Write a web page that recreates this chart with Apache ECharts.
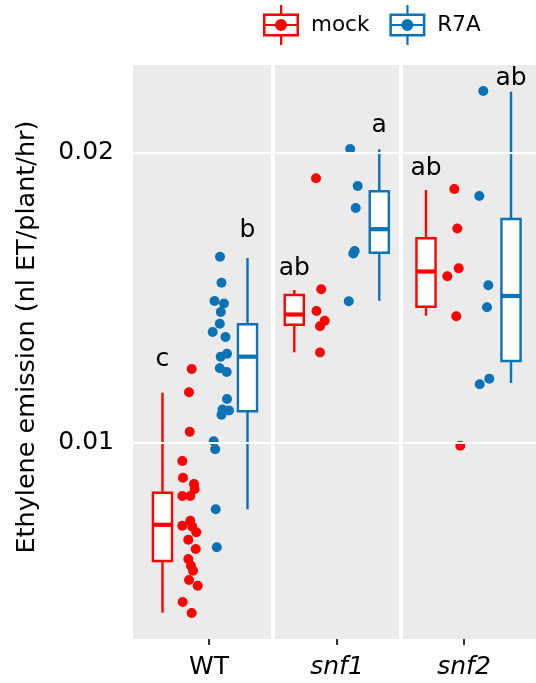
<!DOCTYPE html>
<html>
<head>
<meta charset="utf-8">
<script src="https://cdn.jsdelivr.net/npm/echarts@6/dist/echarts.min.js"></script>
<style>html,body{margin:0;padding:0;background:#fff}#c{width:536px;height:683px}</style>
</head>
<body>
<div id="c"></div>
<script>
// ---- data ----
const FACETS = ['WT', 'snf1', 'snf2'];
const GROUPS = ['mock', 'R7A'];
const Y_TICKS = [0.01, 0.02];
const GRID_LINES = [0.020386, 0.016455, 0.012507, 0.008559, 0.004628];

// box stats: [min, q1, median, q3, max]
const MOCK_BOX = [
  [0.004138, 0.005921, 0.007169, 0.008276, 0.011724],
  [0.013117, 0.014069, 0.014421, 0.015093, 0.015266],
  [0.014379, 0.014690, 0.015903, 0.017048, 0.018714]
];
const R7A_BOX = [
  [0.007703, 0.011083, 0.012966, 0.014086, 0.016369],
  [0.014893, 0.016552, 0.017362, 0.018669, 0.020117],
  [0.012059, 0.012817, 0.015059, 0.017714, 0.022103]
];

// individual points and their jitter (dodge units)
const MOCK_WT = [0.012541,0.011738,0.010379,0.009369,0.008793,0.008576,0.008403,0.008162,0.008162,0.00731,0.007138,0.007103,0.00691,0.006655,0.006334,0.00599,0.005759,0.005586,0.005266,0.005069,0.004507,0.004128];
const MOCK_WT_JIT = [-0.313,-0.376,-0.360,-0.534,-0.518,-0.259,-0.242,-0.534,-0.346,-0.346,-0.534,-0.299,-0.205,-0.393,-0.219,-0.393,-0.329,-0.282,-0.376,-0.172,-0.525,-0.313];
const R7A_WT = [0.016414,0.015517,0.014886,0.0148,0.014507,0.014103,0.013817,0.013645,0.013069,0.012966,0.012566,0.012438,0.011507,0.011145,0.01111,0.010966,0.010048,0.009772,0.007703,0.006393];
const R7A_WT_JIT = [0.353,0.388,0.224,0.447,0.372,0.348,0.181,0.482,0.518,0.369,0.348,0.511,0.518,0.412,0.565,0.388,0.205,0.240,0.252,0.278];
const MOCK_SNF1 = [0.019117,0.01529,0.014541,0.014207,0.014014,0.01311];
const MOCK_SNF1_JIT = [-0.489,-0.367,-0.478,-0.285,-0.395,-0.395];
const R7A_SNF1 = [0.020128,0.018852,0.018093,0.01661,0.016524,0.014879];
const R7A_SNF1_JIT = [0.315,0.492,0.445,0.421,0.388,0.282];
const MOCK_SNF2 = [0.018748,0.017386,0.016017,0.015741,0.014362,0.009897];
const MOCK_SNF2_JIT = [-0.334,-0.264,-0.231,-0.499,-0.287,-0.193];
const R7A_SNF2 = [0.022128,0.018507,0.015428,0.014669,0.012207,0.012017];
const R7A_SNF2_JIT = [0.348,0.254,0.466,0.435,0.489,0.264];

// significance letters
const MOCK_LETTERS = ['c', 'ab', 'ab'];
const MOCK_LETTER_Y = [0.012876, 0.016014, 0.019462];
const R7A_LETTERS = ['b', 'a', 'ab'];
const R7A_LETTER_Y = [0.017334, 0.020955, 0.022566];

// ---- layout / style ----
const MOCK_X = -1, R7A_X = 1, BOX_W = 0.45;
const X_RANGE = [[-1.694, 1.553], [-1.454, 1.464], [-1.541, 1.588]];
const X_TICK = [0.094, 0.005, -0.106];
const GRID_POS = [{left: 133, width: 138}, {left: 275, width: 124}, {left: 403, width: 133}];
const Y_MIN = 0.003231, Y_MAX = 0.023024;
const RED = '#FF0000', BLUE = '#0A72B5';
const FONT = 'DejaVu Sans';

const MOCK_PTS = [MOCK_WT, MOCK_SNF1, MOCK_SNF2];
const MOCK_JIT = [MOCK_WT_JIT, MOCK_SNF1_JIT, MOCK_SNF2_JIT];
const R7A_PTS = [R7A_WT, R7A_SNF1, R7A_SNF2];
const R7A_JIT = [R7A_WT_JIT, R7A_SNF1_JIT, R7A_SNF2_JIT];

const ICON = 'path://M0,8.5L36,8.5L36,31.5L0,31.5Z' +
  'M2.5,11L2.5,29L33.5,29L33.5,11Z' +
  'M17,0L19.2,0L19.2,8.5L17,8.5Z' +
  'M17,31.5L19.2,31.5L19.2,40L17,40Z' +
  'M2.5,19L33.5,19L33.5,21L2.5,21Z' +
  'M12,20A6,6 0 1,1 24,20A6,6 0 1,1 12,20Z';

function renderBox(params, api) {
  const x = api.value(0);
  const pMin = api.coord([x, api.value(1)]);
  const pQ1 = api.coord([x, api.value(2)]);
  const pMed = api.coord([x, api.value(3)]);
  const pQ3 = api.coord([x, api.value(4)]);
  const pMax = api.coord([x, api.value(5)]);
  const half = api.size([BOX_W, 0])[0] / 2;
  const color = api.visual('color');
  const cx = pMed[0];
  return {
    type: 'group',
    children: [
      {type: 'line', shape: {x1: cx, y1: pMax[1], x2: cx, y2: pQ3[1]}, style: {stroke: color, lineWidth: 2.4}},
      {type: 'line', shape: {x1: cx, y1: pQ1[1], x2: cx, y2: pMin[1]}, style: {stroke: color, lineWidth: 2.4}},
      {type: 'rect', shape: {x: cx - half, y: pQ3[1], width: 2 * half, height: pQ1[1] - pQ3[1]},
        style: {fill: '#fff', stroke: color, lineWidth: 2.4}},
      {type: 'line', shape: {x1: cx - half, y1: pMed[1], x2: cx + half, y2: pMed[1]}, style: {stroke: color, lineWidth: 4.2}}
    ]
  };
}

function renderText(params, api) {
  const p = api.coord([api.value(0), api.value(1)]);
  return {
    type: 'text', x: p[0], y: p[1],
    style: {text: api.value(2), fill: '#000', font: '25px ' + FONT, align: 'center', verticalAlign: 'middle'}
  };
}

const grids = [], xAxes = [], yAxes = [], series = [];
FACETS.forEach((f, i) => {
  grids.push({left: GRID_POS[i].left, width: GRID_POS[i].width, top: 65, height: 574,
    show: true, backgroundColor: '#EBEBEB', borderWidth: 0});
  xAxes.push({
    gridIndex: i, type: 'value', min: X_RANGE[i][0], max: X_RANGE[i][1],
    axisLine: {show: false}, splitLine: {show: false},
    axisTick: {show: true, length: 6, lineStyle: {color: '#333', width: 2}, customValues: [X_TICK[i]]},
    axisLabel: {show: true, customValues: [X_TICK[i]], formatter: () => f, margin: 16,
      fontSize: 25, color: '#000', fontFamily: FONT, fontStyle: i === 0 ? 'normal' : 'italic'}
  });
  yAxes.push({
    gridIndex: i, type: 'value', min: Y_MIN, max: Y_MAX,
    axisLine: {show: false}, splitLine: {show: false},
    axisTick: {show: i === 0, length: 6, lineStyle: {color: '#333', width: 2}, customValues: Y_TICKS},
    axisLabel: {show: i === 0, customValues: Y_TICKS, formatter: v => v.toFixed(2), margin: 19,
      fontSize: 25, color: '#000', fontFamily: FONT},
    name: i === 0 ? 'Ethylene emission (nl ET/plant/hr)' : '',
    nameLocation: 'middle', nameGap: 93,
    nameTextStyle: {fontSize: 25.5, color: '#000', fontFamily: FONT, padding: [0, 0, 0, 30]}
  });
  // gridlines
  series.push({
    type: 'line', xAxisIndex: i, yAxisIndex: i, data: [], silent: true, z: 1,
    markLine: {silent: true, symbol: 'none', label: {show: false},
      lineStyle: {color: '#fff', width: 2, type: 'solid'},
      data: GRID_LINES.map(v => ({yAxis: v}))}
  });
  series.push({
    name: 'mock', type: 'scatter', xAxisIndex: i, yAxisIndex: i, z: 4,
    symbolSize: 10, itemStyle: {color: RED, opacity: 1},
    data: MOCK_PTS[i].map((v, k) => [MOCK_JIT[i][k], v])
  });
  series.push({
    name: 'R7A', type: 'scatter', xAxisIndex: i, yAxisIndex: i, z: 4,
    symbolSize: 10, itemStyle: {color: BLUE, opacity: 1},
    data: R7A_PTS[i].map((v, k) => [R7A_JIT[i][k], v])
  });
  series.push({
    name: 'mock', type: 'custom', xAxisIndex: i, yAxisIndex: i, z: 3,
    itemStyle: {color: RED}, renderItem: renderBox,
    data: [[MOCK_X].concat(MOCK_BOX[i])]
  });
  series.push({
    name: 'R7A', type: 'custom', xAxisIndex: i, yAxisIndex: i, z: 3,
    itemStyle: {color: BLUE}, renderItem: renderBox,
    data: [[R7A_X].concat(R7A_BOX[i])]
  });
  series.push({
    type: 'custom', xAxisIndex: i, yAxisIndex: i, z: 5, silent: true,
    renderItem: renderText,
    data: [[MOCK_X, MOCK_LETTER_Y[i], MOCK_LETTERS[i]], [R7A_X, R7A_LETTER_Y[i], R7A_LETTERS[i]]]
  });
});

const chart = echarts.init(document.getElementById('c'), null, {renderer: 'canvas'});
chart.setOption({
  animation: false,
  backgroundColor: '#fff',
  legend: {
    data: GROUPS.map(g => ({name: g, icon: ICON})),
    left: 263, top: 5, padding: 0, itemWidth: 36, itemHeight: 40, itemGap: 20,
    selectedMode: false,
    textStyle: {fontSize: 21.5, color: '#000', fontFamily: FONT, padding: [0, 0, 0, 7]}
  },
  grid: grids, xAxis: xAxes, yAxis: yAxes, series: series
});
</script>
</body>
</html>
